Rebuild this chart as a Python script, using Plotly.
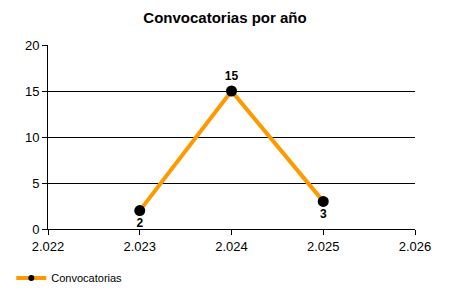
import plotly.graph_objects as go

years = [2023, 2024, 2025]
counts = [2, 15, 3]
label_pos = ["bottom center", "top center", "bottom center"]
x_ticks = [2022, 2023, 2024, 2025, 2026]
x_tick_text = ["2.022", "2.023", "2.024", "2.025", "2.026"]
y_ticks = [0, 5, 10, 15, 20]

fig = go.Figure()
fig.add_trace(go.Scatter(
    x=years, y=counts, mode="lines+markers+text", name="Convocatorias",
    line=dict(color="#FF9900", width=4),
    marker=dict(color="black", size=11),
    text=[f"<b>{c}</b>" for c in counts], textposition=label_pos,
    textfont=dict(family="Liberation Sans, Arial", size=12, color="black"),
    cliponaxis=False, showlegend=False,
))
# legend entry with a smaller marker, as in the reference legend
fig.add_trace(go.Scatter(
    x=[None], y=[None], mode="lines+markers", name="Convocatorias",
    line=dict(color="#FF9900", width=4),
    marker=dict(color="black", size=6),
))

fig.update_layout(
    width=450, height=300,
    margin=dict(l=48, r=35, t=45, b=71, autoexpand=False),
    paper_bgcolor="white", plot_bgcolor="white",
    font=dict(family="Liberation Sans, Arial", size=13, color="black"),
    title=dict(text="<b>Convocatorias por año</b>", x=0.5, xanchor="center",
               y=1 - 18 / 300, yanchor="middle", font=dict(size=15)),
    showlegend=True,
    legend=dict(orientation="h", x=-0.10, xanchor="left", y=-0.266, yanchor="middle",
                font=dict(size=11), bgcolor="rgba(0,0,0,0)",
                itemwidth=30),
    xaxis=dict(range=[2022, 2026], tickvals=x_ticks, ticktext=x_tick_text,
               showgrid=False, zeroline=False, showline=True, linecolor="black",
               ticks="outside", ticklen=5, tickcolor="black",
               tickfont=dict(size=13)),
    yaxis=dict(range=[0, 20], tickvals=y_ticks, showgrid=True, gridcolor="black",
               gridwidth=1, zeroline=False, showline=True, linecolor="black",
               ticks="outside", ticklen=5, tickcolor="black",
               tickfont=dict(size=13)),
)

fig.write_html("out.html")
